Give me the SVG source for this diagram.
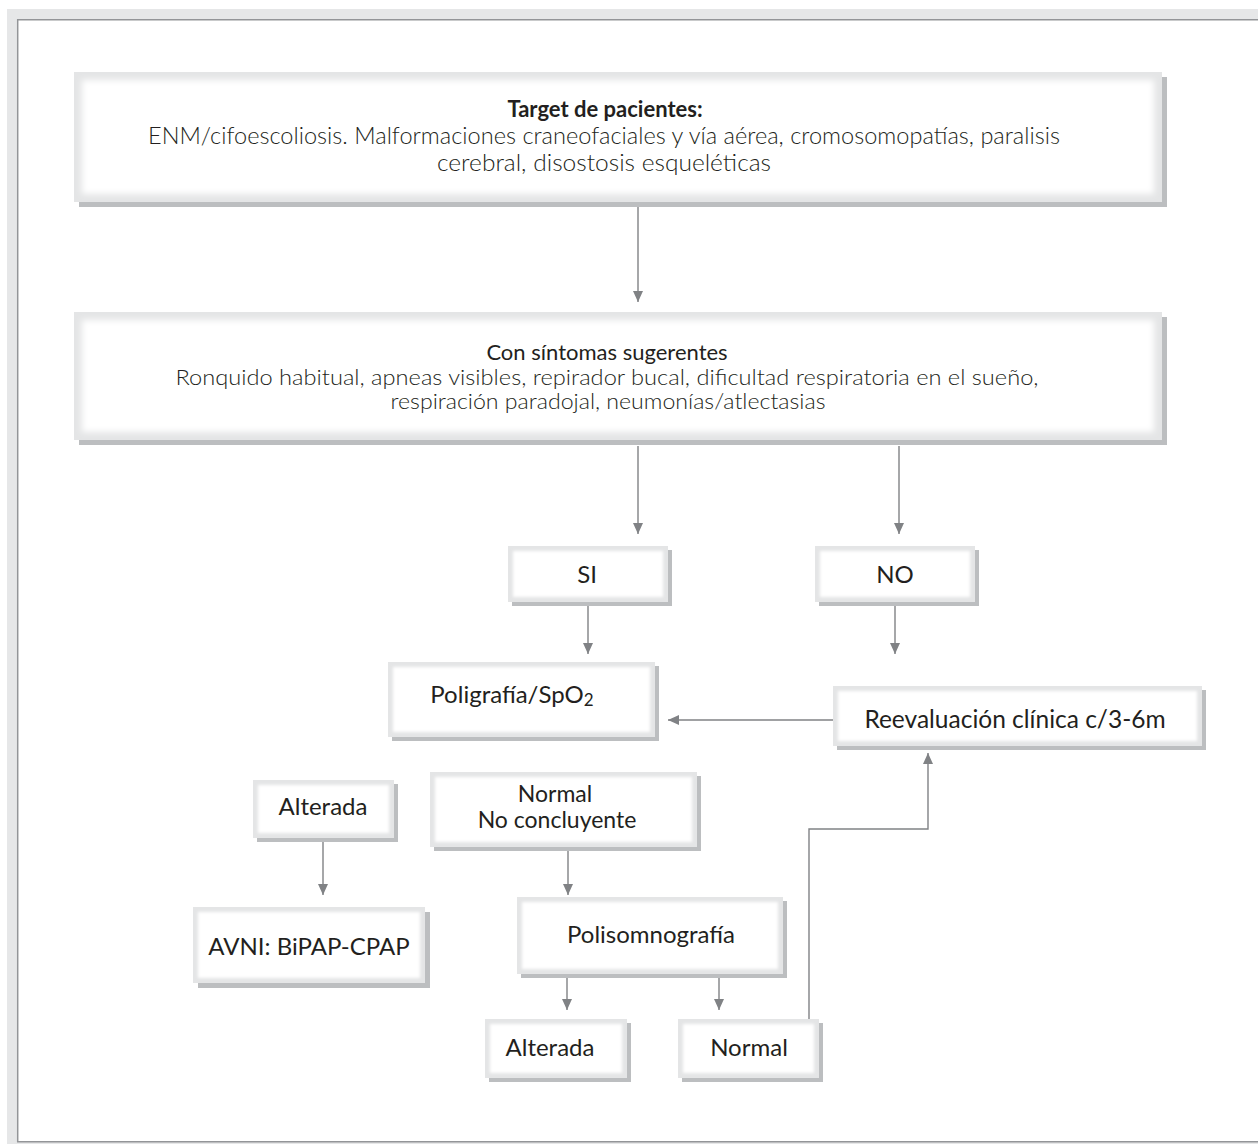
<svg xmlns="http://www.w3.org/2000/svg" width="1258" height="1145" viewBox="0 0 1258 1145">
<style>
.sh{fill:#bcbec0}
.bx{fill:#e4e5e6}
.in{fill:#ffffff}
.t{font-family:Lato,"Liberation Sans",sans-serif;fill:#231f20;text-anchor:middle}
.l{font-weight:300}
.b{font-weight:bold}
.c{fill:none;stroke:#808285;stroke-width:1.4}
</style>
<defs>
<filter id="softL" x="-5%" y="-20%" width="110%" height="140%"><feGaussianBlur stdDeviation="3"/></filter>
<filter id="softS" x="-10%" y="-20%" width="120%" height="140%"><feGaussianBlur stdDeviation="1.8"/></filter>
<marker id="ah" markerUnits="userSpaceOnUse" markerWidth="12" markerHeight="12" viewBox="0 0 12 12" refX="11" refY="6" orient="auto">
<path d="M0,1 L11,6 L0,11 Z" fill="#808285"/>
</marker>
</defs>
<rect x="0" y="0" width="1258" height="1145" fill="#ffffff"/>
<g id="frame">
<rect x="7" y="9" width="1260" height="1135" fill="#e6e7e8"/>
<rect x="17" y="19" width="1250" height="1123" fill="#ffffff"/>
<path d="M17.7,1142 V19.7 H1258" fill="none" stroke="#939598" stroke-width="1.5"/>
<path d="M17,1141.8 H1258" fill="none" stroke="#939598" stroke-width="1.5"/>
</g>
<g id="connectors">
<path class="c" d="M638,207 V302" marker-end="url(#ah)"/>
<path class="c" d="M638,446 V534" marker-end="url(#ah)"/>
<path class="c" d="M899,446 V534" marker-end="url(#ah)"/>
<path class="c" d="M588,606 V654" marker-end="url(#ah)"/>
<path class="c" d="M895,606 V654" marker-end="url(#ah)"/>
<path class="c" d="M833,720 H668" marker-end="url(#ah)"/>
<path class="c" d="M323,842 V895" marker-end="url(#ah)"/>
<path class="c" d="M568,851 V895" marker-end="url(#ah)"/>
<path class="c" d="M567,978 V1010" marker-end="url(#ah)"/>
<path class="c" d="M719,978 V1010" marker-end="url(#ah)"/>
<path class="c" d="M809,1019 V829 H928 V753" marker-end="url(#ah)"/>
</g>
<g id="n-target">
<rect class="sh" x="79" y="77" width="1088" height="130"/>
<rect class="bx" x="74" y="72" width="1088" height="130"/>
<rect class="in" x="82" y="80" width="1072" height="114" filter="url(#softL)"/>
<text class="t b" x="605" y="117" font-size="22">Target de pacientes:</text>
<text class="t l" x="604" y="144" font-size="22.5" textLength="912" lengthAdjust="spacingAndGlyphs">ENM/cifoescoliosis. Malformaciones craneofaciales y vía aérea, cromosomopatías, paralisis</text>
<text class="t l" x="604" y="171" font-size="22.5" textLength="334" lengthAdjust="spacingAndGlyphs">cerebral, disostosis esqueléticas</text>
</g>
<g id="n-sintomas">
<rect class="sh" x="79" y="317" width="1088" height="128"/>
<rect class="bx" x="74" y="312" width="1088" height="128"/>
<rect class="in" x="82" y="320" width="1072" height="112" filter="url(#softL)"/>
<text class="t" x="607" y="360" font-size="22">Con síntomas sugerentes</text>
<text class="t l" x="607" y="385" font-size="21.5" textLength="863" lengthAdjust="spacingAndGlyphs">Ronquido habitual, apneas visibles, repirador bucal, dificultad respiratoria en el sueño,</text>
<text class="t l" x="608" y="409" font-size="21.5" textLength="435" lengthAdjust="spacingAndGlyphs">respiración paradojal, neumonías/atlectasias</text>
</g>
<g id="n-si">
<rect class="sh" x="512" y="550" width="160" height="56"/>
<rect class="bx" x="508" y="546" width="160" height="56"/>
<rect class="in" x="513" y="551" width="150" height="46" filter="url(#softS)"/>
<text class="t" x="587" y="583" font-size="24">SI</text>
</g>
<g id="n-no">
<rect class="sh" x="819" y="550" width="160" height="56"/>
<rect class="bx" x="815" y="546" width="160" height="56"/>
<rect class="in" x="820" y="551" width="150" height="46" filter="url(#softS)"/>
<text class="t" x="895" y="583" font-size="24">NO</text>
</g>
<g id="n-poligrafia">
<rect class="sh" x="392" y="666" width="267" height="75"/>
<rect class="bx" x="388" y="662" width="267" height="75"/>
<rect class="in" x="393" y="667" width="257" height="65" filter="url(#softS)"/>
<text class="t" x="512" y="703" font-size="24">Poligrafía/SpO<tspan font-size="17" dy="3">2</tspan></text>
</g>
<g id="n-reevaluacion">
<rect class="sh" x="837" y="690" width="369" height="60"/>
<rect class="bx" x="833" y="686" width="369" height="60"/>
<rect class="in" x="838" y="691" width="359" height="50" filter="url(#softS)"/>
<text class="t" x="1015" y="728" font-size="24.5">Reevaluación clínica c/3-6m</text>
</g>
<g id="n-alterada1">
<rect class="sh" x="257" y="784" width="141" height="58"/>
<rect class="bx" x="253" y="780" width="141" height="58"/>
<rect class="in" x="258" y="785" width="131" height="48" filter="url(#softS)"/>
<text class="t" x="323" y="815" font-size="24">Alterada</text>
</g>
<g id="n-normal-nc">
<rect class="sh" x="434" y="776" width="267" height="75"/>
<rect class="bx" x="430" y="772" width="267" height="75"/>
<rect class="in" x="435" y="777" width="257" height="65" filter="url(#softS)"/>
<text class="t" x="555" y="802" font-size="23">Normal</text>
<text class="t" x="557" y="828" font-size="23">No concluyente</text>
</g>
<g id="n-avni">
<rect class="sh" x="198" y="912" width="232" height="76"/>
<rect class="bx" x="193" y="907" width="232" height="76"/>
<rect class="in" x="198" y="912" width="222" height="66" filter="url(#softS)"/>
<text class="t" x="309" y="955" font-size="24">AVNI: BiPAP-CPAP</text>
</g>
<g id="n-polisomnografia">
<rect class="sh" x="521" y="901" width="266" height="77"/>
<rect class="bx" x="517" y="897" width="266" height="77"/>
<rect class="in" x="522" y="902" width="256" height="67" filter="url(#softS)"/>
<text class="t" x="651" y="943" font-size="24">Polisomnografía</text>
</g>
<g id="n-alterada2">
<rect class="sh" x="489" y="1023" width="142" height="59"/>
<rect class="bx" x="485" y="1019" width="142" height="59"/>
<rect class="in" x="490" y="1024" width="132" height="49" filter="url(#softS)"/>
<text class="t" x="550" y="1056" font-size="24">Alterada</text>
</g>
<g id="n-normal2">
<rect class="sh" x="682" y="1023" width="141" height="59"/>
<rect class="bx" x="678" y="1019" width="141" height="59"/>
<rect class="in" x="683" y="1024" width="131" height="49" filter="url(#softS)"/>
<text class="t" x="749" y="1056" font-size="24">Normal</text>
</g>
</svg>
